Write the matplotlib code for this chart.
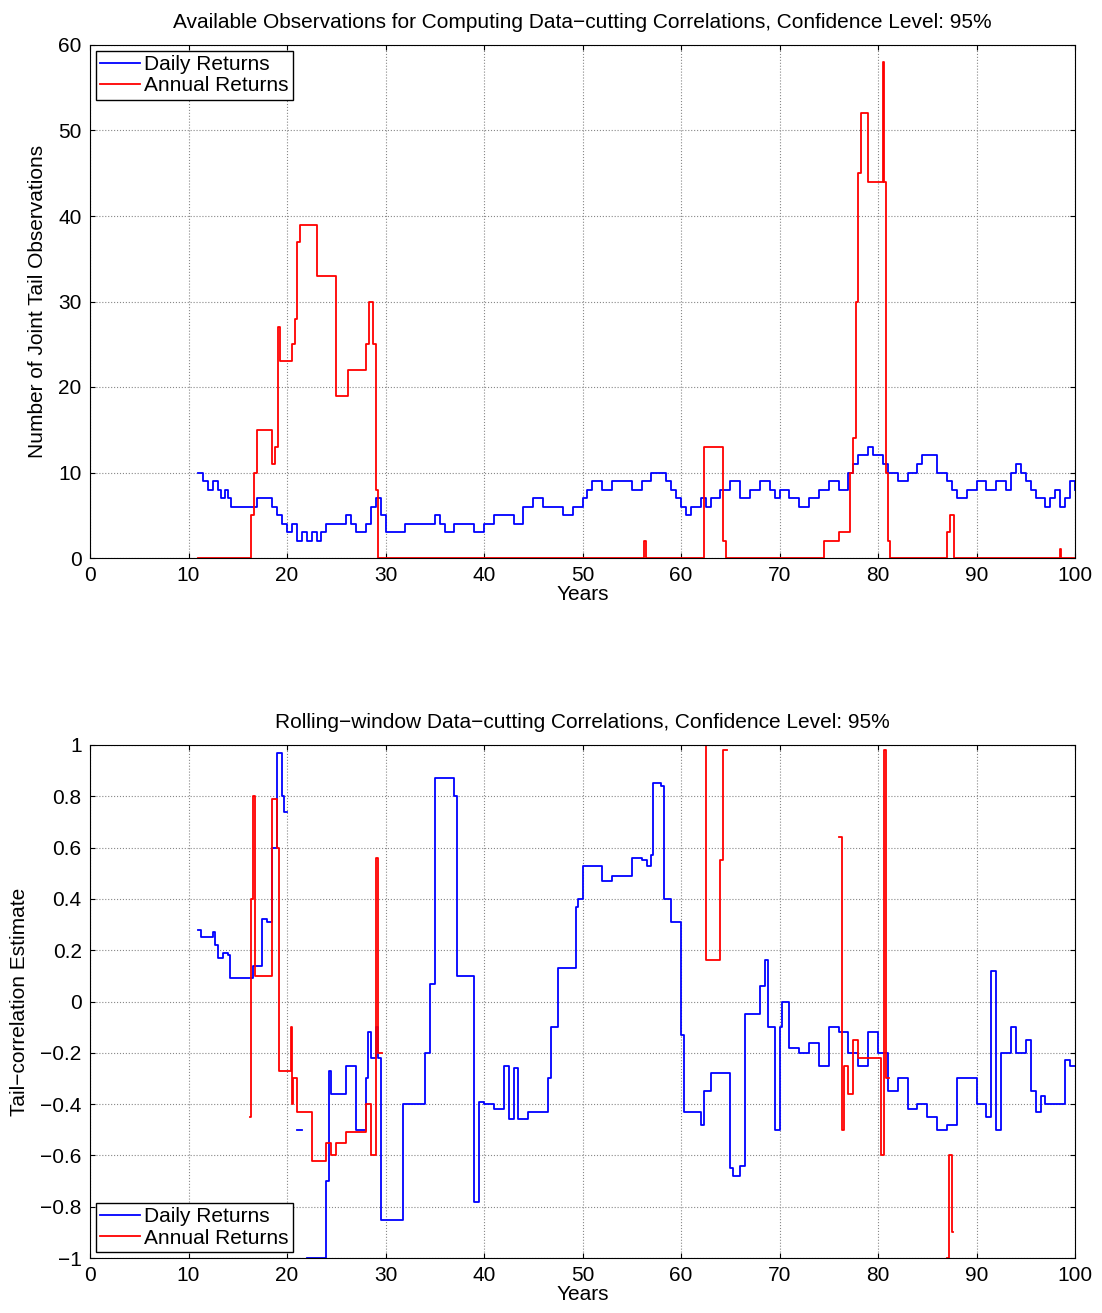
import numpy as np
import matplotlib.pyplot as plt

plt.rcParams["font.family"] = ["Liberation Sans", "DejaVu Sans"]

# ---- top panel: joint tail observations (step series) ----
obs_daily_x = [11, 11.5, 12, 12.5, 13, 13.3, 13.7, 14, 14.3, 17, 18.5, 19, 19.5, 20, 20.5, 21, 21.5, 22, 22.5,
               23, 23.5, 24, 26, 26.5, 27, 28, 28.5, 29, 29.5, 30, 32, 35, 35.5, 36, 37, 39, 40, 41, 43, 44, 45,
               46, 48, 49, 50, 50.5, 51, 52, 53, 55, 56, 57, 58.5, 59, 59.5, 60, 60.5, 61, 62, 62.5, 63, 64,
               65, 66, 67, 68, 69, 69.5, 70, 71, 72, 73, 74, 75, 76, 77, 77.5, 78, 79, 79.5, 80, 80.5, 81, 82,
               83, 84, 84.5, 86, 87, 87.5, 88, 89, 90, 91, 92, 93, 93.5, 94, 94.5, 95, 95.5, 96, 97, 97.5,
               98, 98.5, 99, 99.5, 100]
obs_daily_y = [10, 9, 8, 9, 8, 7, 8, 7, 6, 7, 6, 5, 4, 3, 4, 2, 3, 2, 3,
               2, 3, 4, 5, 4, 3, 4, 6, 7, 5, 3, 4, 5, 4, 3, 4, 3, 4, 5, 4, 6, 7,
               6, 5, 6, 7, 8, 9, 8, 9, 8, 9, 10, 9, 8, 7, 6, 5, 6, 7, 6, 7, 8,
               9, 7, 8, 9, 8, 7, 8, 7, 6, 7, 8, 9, 8, 10, 11, 12, 13, 12, 12, 11, 10, 9,
               10, 11, 12, 10, 9, 8, 7, 8, 9, 8, 9, 8, 10, 11, 10, 9, 8, 7, 6, 7,
               8, 6, 7, 9, 8]
obs_annual_x = [11, 16.3, 16.6, 17, 18.5, 18.8, 19.1, 19.3, 20.5, 20.8, 21, 21.3, 23, 25, 26.2, 28, 28.3,
                28.7, 29, 29.2, 56.2, 56.4, 62.3, 64.3, 64.6, 74.5, 76, 77.2, 77.5, 77.8, 78, 78.3, 79,
                80.5, 80.6, 80.8, 81, 81.2, 87, 87.3, 87.7, 98.5, 98.6, 100]
obs_annual_y = [0, 5, 10, 15, 11, 13, 27, 23, 25, 28, 37, 39, 33, 19, 22, 25, 30,
                25, 8, 0, 2, 0, 13, 2, 0, 2, 3, 10, 14, 30, 45, 52, 44,
                58, 44, 10, 2, 0, 3, 5, 0, 1, 0, 0]

# ---- bottom panel: tail-correlation estimates (NaN = gap) ----
nan = np.nan
cor_daily_x = [11, 11.3, 12.5, 12.7, 13, 13.5, 14, 14.2, 16.5, 17.5, 18, 18.5, 19, 19.5, 19.7, 20,
               21, 21.5, 22, 24, 24.3, 24.5, 26, 27, 28, 28.2, 28.5, 29, 29.2, 29.5, 31.8, 33, 34, 34.5,
               35, 37, 37.3, 39, 39.5, 40, 41, 42, 42.5, 43, 43.5, 44.5, 46.5, 46.8, 47.5, 49, 49.3, 49.5,
               50, 52, 53, 55, 56, 56.5, 57, 57.2, 58, 58.3, 59, 60, 60.3, 62, 62.3, 63, 65, 65.3, 66, 66.5,
               68, 68.5, 68.8, 69.5, 70, 70.3, 71, 72, 73, 74, 75, 76, 77, 78, 79, 80, 81, 82, 83, 84, 85,
               86, 87, 88, 90, 91, 91.5, 92, 92.5, 93.5, 94, 95, 95.5, 96, 96.5, 97, 99, 99.5, 100]
cor_daily_y = [0.28, 0.25, 0.27, 0.22, 0.17, 0.19, 0.18, 0.09, 0.14, 0.32, 0.31, 0.6, 0.97, 0.8, 0.74, nan,
               -0.5, nan, -1.0, -0.7, -0.27, -0.36, -0.25, -0.5, -0.3, -0.12, -0.22, -0.1, -0.22, -0.85, -0.4, -0.4, -0.2, 0.07,
               0.87, 0.8, 0.1, -0.78, -0.39, -0.4, -0.42, -0.25, -0.46, -0.26, -0.46, -0.43, -0.3, -0.1, 0.13, 0.13, 0.37, 0.4,
               0.53, 0.47, 0.49, 0.56, 0.55, 0.53, 0.57, 0.85, 0.84, 0.4, 0.31, -0.13, -0.43, -0.48, -0.35, -0.28, -0.65, -0.68, -0.64, -0.05,
               0.06, 0.16, -0.1, -0.5, -0.1, 0.0, -0.18, -0.2, -0.16, -0.25, -0.1, -0.12, -0.2, -0.25, -0.12, -0.2, -0.35, -0.3, -0.42, -0.4, -0.45,
               -0.5, -0.48, -0.3, -0.4, -0.45, 0.12, -0.5, -0.2, -0.1, -0.2, -0.15, -0.35, -0.43, -0.37, -0.4, -0.23, -0.25, -0.25]
cor_annual_x = [16.2, 16.3, 16.5, 16.8, 18, 18.5, 19, 19.2, 20.4, 20.5, 20.6, 21, 22.5, 24, 24.5, 25, 26, 28,
                28.5, 29, 29.2, 29.5, 29.6,
                62.3, 62.5, 64, 64.3, 64.6, 64.7,
                76, 76.3, 76.5, 77, 77.5, 78, 80, 80.3, 80.6, 80.8, 81, 81.1,
                87, 87.2, 87.5, 87.6]
cor_annual_y = [-0.45, 0.4, 0.8, 0.1, 0.1, 0.79, 0.6, -0.27, -0.1, -0.4, -0.3, -0.43, -0.62, -0.55, -0.6, -0.55, -0.51, -0.4,
                -0.6, 0.56, -0.2, -0.2, nan,
                1.0, 0.16, 0.55, 0.98, 0.98, nan,
                0.64, -0.5, -0.25, -0.36, -0.15, -0.22, -0.22, -0.6, 0.98, -0.3, -0.3, nan,
                -1.0, -0.6, -0.9, -0.9]

W, H = 1102, 1313
fig = plt.figure(figsize=(W / 100, H / 100), dpi=100)
ax1 = fig.add_axes([90 / W, 1 - 558 / H, 985 / W, 513 / H])
ax2 = fig.add_axes([90 / W, 1 - 1258 / H, 985 / W, 513 / H])


def style(ax):
    ax.set_xlim(0, 100)
    ax.set_xticks(range(0, 101, 10))
    ax.grid(True, linestyle=":", color="#888888", linewidth=0.8)
    ax.tick_params(direction="in", labelsize=15, top=True, right=True, pad=6)
    for s in ax.spines.values():
        s.set_linewidth(0.8)


ax1.plot(obs_daily_x, obs_daily_y, color="blue", drawstyle="steps-post", lw=1.3, label="Daily Returns")
ax1.plot(obs_annual_x, obs_annual_y, color="red", drawstyle="steps-post", lw=1.3, label="Annual Returns")
style(ax1)
ax1.set_ylim(0, 60)
ax1.set_xlabel("Years", fontsize=15, labelpad=0)
ax1.set_ylabel("Number of Joint Tail Observations", fontsize=15, labelpad=8)
ax1.set_title("Available Observations for Computing Data\u2212cutting Correlations, Confidence Level: 95%",
              fontsize=15, pad=12)
ax1.legend(loc="upper left", fontsize=15, fancybox=False, edgecolor="black", framealpha=1,
           borderpad=0.2, handlelength=1.9, handletextpad=0.2, labelspacing=0.1, borderaxespad=0.3)

ax2.plot(cor_daily_x, cor_daily_y, color="blue", drawstyle="steps-post", lw=1.3, label="Daily Returns")
ax2.plot(cor_annual_x, cor_annual_y, color="red", drawstyle="steps-post", lw=1.3, label="Annual Returns")
style(ax2)
ax2.set_ylim(-1, 1)
ax2.set_yticks(np.arange(-1, 1.01, 0.2))
ax2.set_yticklabels(["\u22121", "\u22120.8", "\u22120.6", "\u22120.4", "\u22120.2", "0",
                     "0.2", "0.4", "0.6", "0.8", "1"])
ax2.set_xlabel("Years", fontsize=15, labelpad=0)
ax2.set_ylabel("Tail\u2212correlation Estimate", fontsize=15, labelpad=8)
ax2.set_title("Rolling\u2212window Data\u2212cutting Correlations, Confidence Level: 95%", fontsize=15, pad=12)
ax2.legend(loc="lower left", fontsize=15, fancybox=False, edgecolor="black", framealpha=1,
           borderpad=0.2, handlelength=1.9, handletextpad=0.2, labelspacing=0.1, borderaxespad=0.3)

fig.savefig("out.png", dpi=100)
